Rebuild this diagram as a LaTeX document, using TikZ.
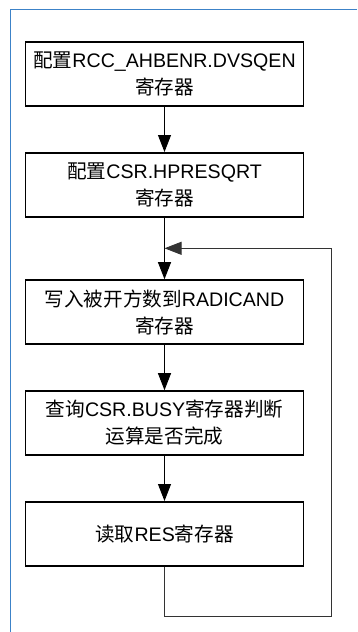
\documentclass[tikz,border=0pt]{standalone}
\usepackage{fontspec}
\setmainfont{Liberation Sans}
\newfontfamily\cjk{Noto Sans CJK SC}
\usetikzlibrary{arrows.meta}
\definecolor{framecol}{RGB}{60,130,200}
\tikzset{
	regbox/.style={draw, line width=1.6pt, minimum width=278pt, minimum height=64pt,
		align=center, font=\fontsize{19.6}{27}\selectfont, inner sep=0pt},
	flow/.style={line width=0.9pt, -{Triangle[length=17pt,width=13pt]}},
}

\begin{document}
\begin{tikzpicture}[x=1pt, y=-1pt]
		%%%%% START %%%%%
		\useasboundingbox (0, 0) rectangle (357, 632);
		
		\draw[line width=0.9pt, color=framecol] (10.3, 632) -- (10.3, 9.3) -- (357, 9.3);
		
		\node[regbox] (cfgdvsq) at (164.5, 73.8) {{\cjk 配置}RCC\_AHBENR.DVSQEN\\{\cjk 寄存器}};
		\node[regbox] (cfgcsr) at (164.5, 184.8) {{\cjk 配置}CSR.HPRESQRT\\{\cjk 寄存器}};
		\node[regbox] (radicand) at (164.5, 312) {{\cjk 写入被开方数到}RADICAND\\{\cjk 寄存器}};
		\node[regbox] (busy) at (164.5, 423) {{\cjk 查询}CSR.BUSY{\cjk 寄存器判断}\\{\cjk 运算是否完成}};
		\node[regbox] (res) at (164.5, 533.8) {{\cjk 读取}RES{\cjk 寄存器}};
		
		\coordinate (merge) at (164.5, 248.3);
		
		\draw[flow] (cfgdvsq) -- (cfgcsr);
		\draw[flow] (cfgcsr) -- (radicand);
		\draw[flow] (radicand) -- (busy);
		\draw[flow] (busy) -- (res);
		
		\draw[flow, color=black!80] (res.south) -- ++(0, 49.7) -| (331, 248.3) -- (merge);
		%%%%% END %%%%%
	\end{tikzpicture}
\end{document}
